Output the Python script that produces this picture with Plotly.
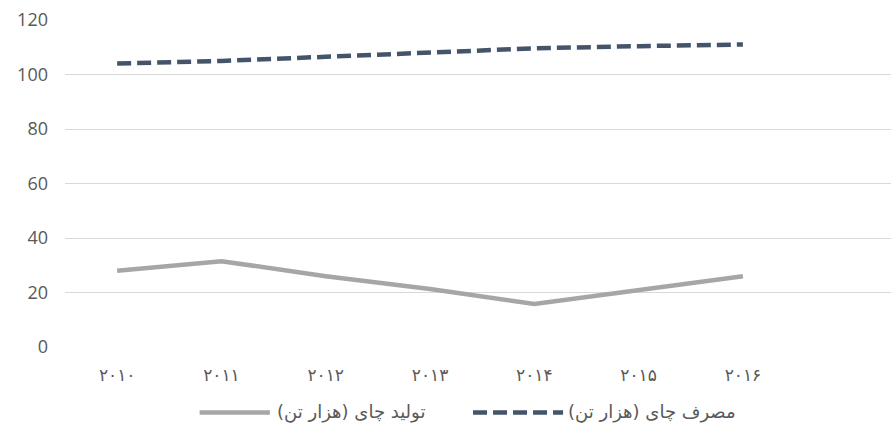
import plotly.graph_objects as go

years = ["۲۰۱۰", "۲۰۱۱", "۲۰۱۲", "۲۰۱۳", "۲۰۱۴", "۲۰۱۵", "۲۰۱۶"]
production = [28, 31.5, 26, 21.3, 15.8, 21, 26]
consumption = [104, 105, 106.5, 108, 109.6, 110.4, 111]
name_production = "تولید چای (هزار تن)\u200f"
name_consumption = "مصرف چای (هزار تن)\u200f"

PROD_COLOR = "#A8A5A5"
CONS_COLOR = "#44546A"

x = list(range(len(years)))
ticktext = ['<span style="letter-spacing:4px">%s</span>' % y for y in years]

fig = go.Figure()
fig.add_trace(go.Scatter(
    x=x, y=production, mode="lines", name=name_production,
    line=dict(color=PROD_COLOR, width=4.5), showlegend=False,
))
fig.add_trace(go.Scatter(
    x=x, y=consumption, mode="lines", name=name_consumption,
    line=dict(color=CONS_COLOR, width=4.5, dash="14px,6px"), showlegend=False,
))

# custom legend (paper coordinates)
ly = -0.2
fig.add_shape(type="line", xref="paper", yref="paper", x0=0.163, x1=0.248, y0=ly, y1=ly,
              line=dict(color=PROD_COLOR, width=4.5))
fig.add_annotation(xref="paper", yref="paper", x=0.254, y=ly, xanchor="left", yanchor="middle",
                   text=name_production, showarrow=False,
                   font=dict(size=18, family="DejaVu Sans", color="#595959"))
fig.add_shape(type="line", xref="paper", yref="paper", x0=0.494, x1=0.603, y0=ly, y1=ly,
              line=dict(color=CONS_COLOR, width=4.5, dash="14px,6px"))
fig.add_annotation(xref="paper", yref="paper", x=0.606, y=ly, xanchor="left", yanchor="middle",
                   text=name_consumption, showarrow=False,
                   font=dict(size=18, family="DejaVu Sans", color="#595959"))

fig.update_layout(
    width=891, height=425,
    margin=dict(l=65, r=0, t=20, b=78),
    paper_bgcolor="white", plot_bgcolor="white",
    font=dict(family="DejaVu Sans", color="#595959"),
    showlegend=False,
)
fig.update_xaxes(
    range=[-0.5, 7.42], tickvals=x, ticktext=ticktext,
    showgrid=False, zeroline=False, showline=False,
    tickfont=dict(size=17, family="DejaVu Sans", color="#595959"),
    ticklabelstandoff=16,
)
fig.update_yaxes(
    range=[0, 120], tickvals=[0, 20, 40, 60, 80, 100, 120],
    showgrid=True, gridcolor="#D9D9D9", gridwidth=1,
    zeroline=False, showline=False,
    tickfont=dict(size=18, family="Open Sans", color="#595959"),
    ticklabelstandoff=16,
)

fig.write_html("out.html")
